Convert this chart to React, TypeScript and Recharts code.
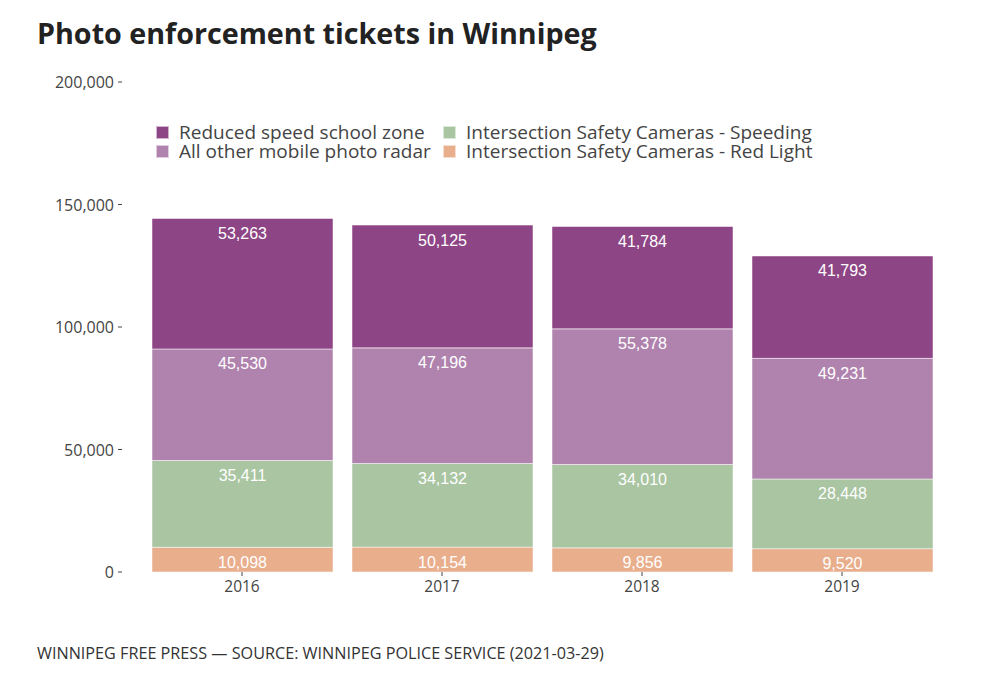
import React from "react";
import { BarChart, Bar, XAxis, YAxis, LabelList } from "recharts";

const years = ["2016", "2017", "2018", "2019"];
const redLight = [10098, 10154, 9856, 9520];
const iscSpeeding = [35411, 34132, 34010, 28448];
const otherMobile = [45530, 47196, 55378, 49231];
const schoolZone = [53263, 50125, 41784, 41793];
const yTicks = [0, 50000, 100000, 150000, 200000];

const COLORS = {
  school: "#8E4585",
  other: "#B083AE",
  speed: "#A9C5A1",
  red: "#E9AE8C",
};

const data = years.map((y, i) => ({
  year: y,
  red: redLight[i],
  speed: iscSpeeding[i],
  other: otherMobile[i],
  school: schoolZone[i],
}));

const fmt = (v: number) => v.toLocaleString("en-US");

const InsideLabel = (props: any) => {
  const { x, y, width, value } = props;
  return (
    <text
      x={x + width / 2}
      y={y + 15}
      textAnchor="middle"
      dominantBaseline="central"
      fill="#fff"
      style={{ fontFamily: "'Liberation Sans', Arial, sans-serif", fontSize: 16 }}
    >
      {fmt(value)}
    </text>
  );
};

const YTick = (props: any) => {
  const { y, payload } = props;
  return (
    <g>
      <text
        x={114}
        y={y}
        textAnchor="end"
        dominantBaseline="central"
        fill="#444"
        style={{ fontFamily: "'Open Sans', sans-serif", fontSize: 16 }}
      >
        {fmt(payload.value)}
      </text>
      <line x1={118} x2={122} y1={y} y2={y} stroke="#444" strokeWidth={1} />
    </g>
  );
};

const XTick = (props: any) => {
  const { x, payload } = props;
  return (
    <g>
      <line x1={x} x2={x} y1={572} y2={576} stroke="#444" strokeWidth={1} />
      <text
        x={x}
        y={586}
        textAnchor="middle"
        dominantBaseline="central"
        fill="#444"
        style={{ fontFamily: "'Open Sans', sans-serif", fontSize: 15.5 }}
      >
        {payload.value}
      </text>
    </g>
  );
};

const legendItems = [
  { label: "Reduced speed school zone", color: COLORS.school, left: 156, top: 132 },
  { label: "All other mobile photo radar", color: COLORS.other, left: 156, top: 151 },
  { label: "Intersection Safety Cameras - Speeding", color: COLORS.speed, left: 443, top: 132 },
  { label: "Intersection Safety Cameras - Red Light", color: COLORS.red, left: 443, top: 151 },
];

export default function App() {
  return (
    <div
      style={{
        position: "absolute",
        left: 0,
        top: 0,
        width: 999,
        height: 692,
        background: "#fff",
        fontFamily: "'Open Sans', sans-serif",
      }}
    >
      <div
        style={{
          position: "absolute",
          left: 37,
          top: 14,
          fontSize: 28.7,
          fontWeight: 700,
          color: "#222",
          whiteSpace: "nowrap",
          lineHeight: "38px",
        }}
      >
        Photo enforcement tickets in Winnipeg
      </div>
      <BarChart
        width={999}
        height={692}
        data={data}
        margin={{ top: 82, right: 57, bottom: 80, left: 82 }}
        style={{ position: "absolute", left: 0, top: 0 }}
      >
        <YAxis
          width={60}
          domain={[0, 200000]}
          ticks={yTicks}
          axisLine={false}
          tickLine={false}
          tick={<YTick />}
          interval={0}
        />
        <XAxis
          dataKey="year"
          axisLine={false}
          tickLine={false}
          tick={<XTick />}
          height={40}
          interval={0}
        />
        <Bar dataKey="red" stackId="a" fill={COLORS.red} barSize={181} stroke="#fff" strokeOpacity={0.5} strokeWidth={1} isAnimationActive={false}>
          <LabelList dataKey="red" content={<InsideLabel />} />
        </Bar>
        <Bar dataKey="speed" stackId="a" fill={COLORS.speed} barSize={181} stroke="#fff" strokeOpacity={0.5} strokeWidth={1} isAnimationActive={false}>
          <LabelList dataKey="speed" content={<InsideLabel />} />
        </Bar>
        <Bar dataKey="other" stackId="a" fill={COLORS.other} barSize={181} stroke="#fff" strokeOpacity={0.5} strokeWidth={1} isAnimationActive={false}>
          <LabelList dataKey="other" content={<InsideLabel />} />
        </Bar>
        <Bar dataKey="school" stackId="a" fill={COLORS.school} barSize={181} stroke="#fff" strokeOpacity={0.5} strokeWidth={1} isAnimationActive={false}>
          <LabelList dataKey="school" content={<InsideLabel />} />
        </Bar>
      </BarChart>
      {legendItems.map((it) => (
        <div
          key={it.label}
          style={{
            position: "absolute",
            left: it.left,
            top: it.top - 9,
            height: 18,
            display: "flex",
            alignItems: "center",
            whiteSpace: "nowrap",
          }}
        >
          <div
            style={{
              width: 11,
              height: 11,
              background: it.color,
              border: "0.5px solid rgba(255,255,255,0.6)",
              marginRight: 10,
              flexShrink: 0,
            }}
          />
          <span style={{ fontSize: 19, color: "#444", lineHeight: "18px" }}>{it.label}</span>
        </div>
      ))}
      <div
        style={{
          position: "absolute",
          left: 37,
          top: 643,
          fontSize: 16.2,
          color: "#333",
          whiteSpace: "nowrap",
          lineHeight: "20px",
        }}
      >
        WINNIPEG FREE PRESS — SOURCE: WINNIPEG POLICE SERVICE (2021-03-29)
      </div>
    </div>
  );
}
